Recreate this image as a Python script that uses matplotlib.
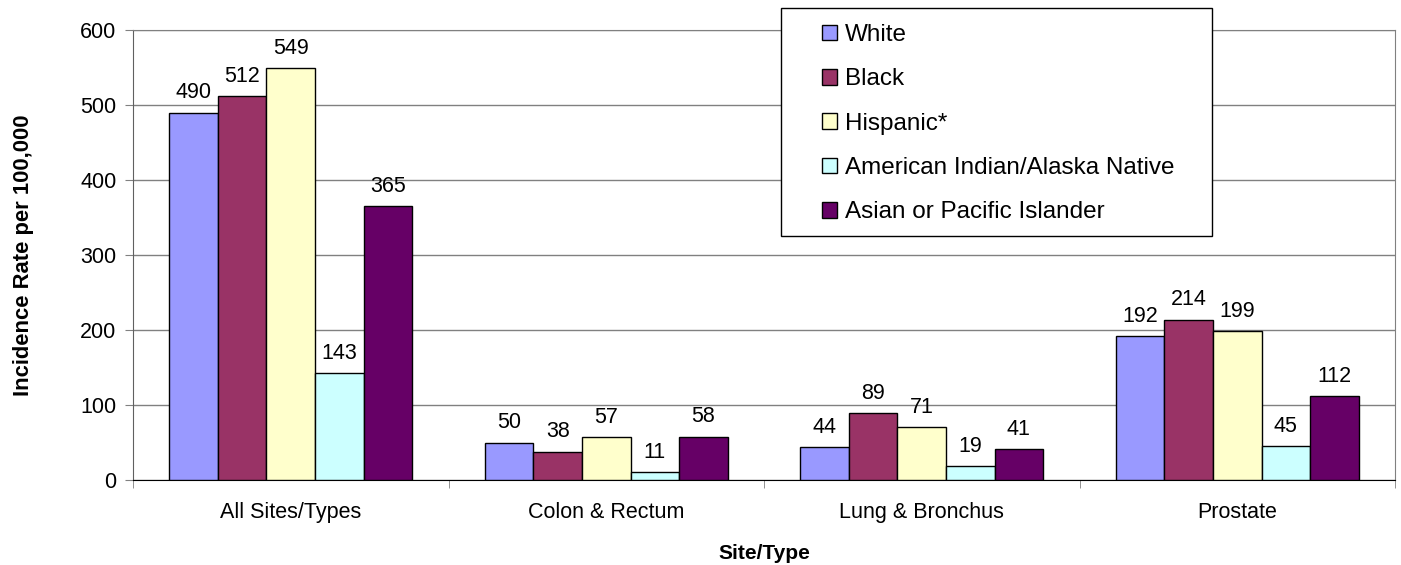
import matplotlib.pyplot as plt
import numpy as np
from matplotlib.patches import Rectangle

plt.rcParams['font.family'] = ['Liberation Sans', 'DejaVu Sans']

# data
sites = ["All Sites/Types", "Colon & Rectum", "Lung & Bronchus", "Prostate"]
groups = ["White", "Black", "Hispanic*", "American Indian/Alaska Native",
          "Asian or Pacific Islander"]
white = [490, 50, 44, 192]
black = [512, 38, 89, 214]
hispanic = [549, 57, 71, 199]
aian = [143, 11, 19, 45]
api = [365, 58, 41, 112]
values = [white, black, hispanic, aian, api]
colors = ["#9999FF", "#993366", "#FFFFCC", "#CCFFFF", "#660066"]

W, H = 1401, 565
fig = plt.figure(figsize=(W / 100, H / 100), dpi=100)
ax = fig.add_axes([133 / W, 1 - 480 / H, (1395 - 133) / W, (480 - 30) / H])

x = np.arange(len(sites))
bw = 0.154
handles = []
for i, (vals, c) in enumerate(zip(values, colors)):
    b = ax.bar(x + (i - 2) * bw, vals, bw, color=c, edgecolor="black",
               linewidth=1.0, label=groups[i], zorder=3)
    ax.bar_label(b, padding=6.5, fontsize=15.5, zorder=4)
    handles.append(b)

ax.set_xlim(-0.5, 3.5)
ax.set_ylim(0, 600)
ax.set_yticks(range(0, 601, 100))
ax.yaxis.grid(True, color="#808080", linewidth=1.0, zorder=0)
ax.set_xticks(x)
ax.set_xticklabels(sites, fontsize=15.5)
ax.tick_params(axis="x", length=0, pad=16)
ax.set_xticks(np.arange(-0.5, 4, 1), minor=True)
ax.tick_params(axis="x", which="minor", length=6, color="#808080")
ax.tick_params(axis="y", labelsize=15.5, length=6, color="#808080", pad=6)
for s in ["top", "right"]:
    ax.spines[s].set_color("#808080")
ax.spines["left"].set_color("#606060")
ax.spines["bottom"].set_color("black")

ax.set_ylabel("Incidence Rate per 100,000", fontsize=15.8, fontweight="bold",
              labelpad=33)
ax.set_xlabel("Site/Type", fontsize=15, fontweight="bold", labelpad=15)

# legend box
fig.patches.append(Rectangle((781 / W, 1 - 236 / H), (1212 - 781) / W,
                             (236 - 8) / H, transform=fig.transFigure,
                             facecolor="white", edgecolor="black",
                             linewidth=1.0, zorder=5))
leg = fig.legend(handles=handles, loc="upper left",
                 bbox_to_anchor=(822 / W, 1 - 24 / H), frameon=False,
                 fontsize=17.5, handlelength=0.6, handleheight=0.6,
                 handletextpad=0.35, labelspacing=0.92, borderpad=0,
                 borderaxespad=0)
leg.set_zorder(6)

fig.savefig("out.png", dpi=100)
